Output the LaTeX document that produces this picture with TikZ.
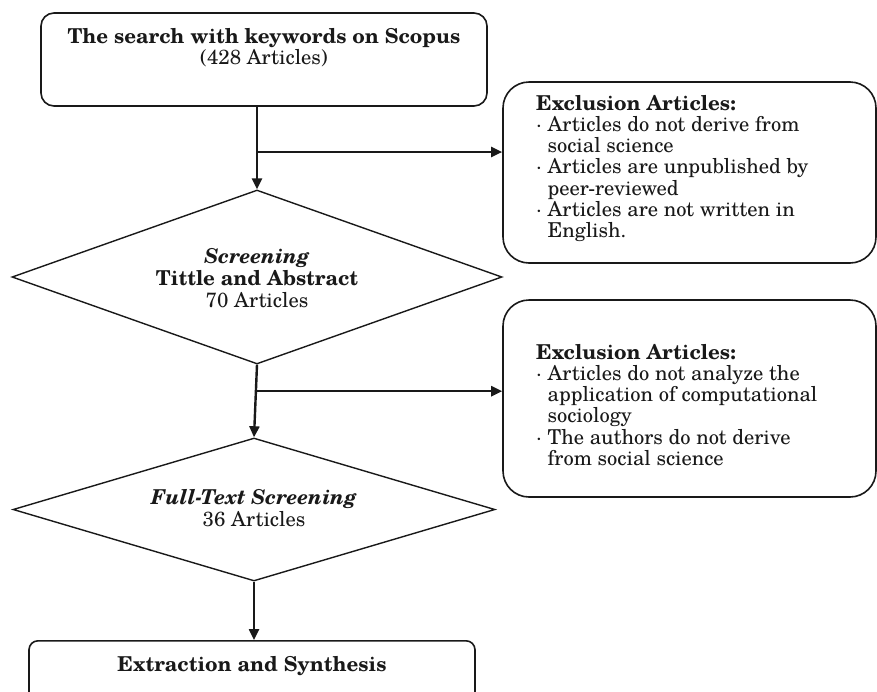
\documentclass[tikz,border=0pt]{standalone}
\usepackage{fontspec}
\setmainfont{TeX Gyre Schola}
\usetikzlibrary{shapes.geometric,arrows.meta,calc}
\begin{document}
\begin{tikzpicture}[x=1pt,y=-1pt,
  box/.style={draw=black!90, line width=1.6pt, rounded corners=13pt, inner sep=0pt},
  exbox/.style={draw=black!90, line width=1.6pt, rounded corners=26pt, inner sep=0pt},
  dia/.style={diamond, draw=black!90, line width=1.4pt, inner sep=0pt},
  arr/.style={draw=black!90, line width=2.4pt, -{Triangle[length=11pt,width=10pt]}},
  txt/.style={inner sep=0pt, text=black!90, align=center, font=\fontsize{20.5}{21}\selectfont},
  dtxt/.style={inner sep=0pt, text=black!90, align=center, font=\fontsize{20.5}{22}\selectfont},
  extxt/.style={inner sep=0pt, text=black!90, align=left, anchor=north west, font=\fontsize{20.5}{21.2}\selectfont}]
\useasboundingbox (0,0) rectangle (877,691);
\clip (0,0) rectangle (877,691);

% boxes
\node[box, minimum width=446pt, minimum height=93pt] (top) at (264,59.5) {};
\node[txt] (toptxt) at (264,48) {\textbf{The search with keywords on Scopus}\\(428 Articles)};

\node[exbox, minimum width=373pt, minimum height=181pt] (ex1) at (689.5,172.5) {};
\node[extxt] (ex1t) at (536,95) {\textbf{Exclusion Articles:}\\
\textperiodcentered\ Articles do not derive from\\
\phantom{\textperiodcentered\ }social science\\
\textperiodcentered\ Articles are unpublished by\\
\phantom{\textperiodcentered\ }peer-reviewed\\
\textperiodcentered\ Articles are not written in\\
\phantom{\textperiodcentered\ }English.};

\node[dia, minimum width=490pt, minimum height=174pt] (d1) at (257,277) {};
\node[dtxt] (d1t) at (257,278) {\textbf{\textit{Screening}}\\\textbf{Tittle and Abstract}\\70 Articles};

\node[exbox, minimum width=373pt, minimum height=197pt] (ex2) at (689.5,398.5) {};
\node[extxt] (ex2t) at (536,344) {\textbf{Exclusion Articles:}\\
\textperiodcentered\ Articles do not analyze the\\
\phantom{\textperiodcentered\ }application of computational\\
\phantom{\textperiodcentered\ }sociology\\
\textperiodcentered\ The authors do not derive\\
\phantom{\textperiodcentered\ }from social science};

\node[dia, minimum width=482pt, minimum height=143pt] (d2) at (254,509.5) {};
\node[dtxt] (d2t) at (254,508) {\textbf{\textit{Full-Text Screening}}\\36 Articles};

\node[box, rounded corners=9pt, minimum width=446pt, minimum height=80pt, anchor=north] (bot) at (252,640) {};
\node[txt] (bott) at (252,666) {\textbf{Extraction and Synthesis}};

% connectors
\draw[arr] (top.south -| d1.north) -- (d1.north);
\coordinate (b1) at (257,152);
\draw[arr] (b1) -- (b1 -| ex1.west);

\draw[arr] (d1.south) -- (d2.north);
\coordinate (b2) at ($(d1.south)!0.365!(d2.north)$);
\draw[arr] (b2) -- (b2 -| ex2.west);

\draw[arr] (d2.south) -- (d2.south |- bot.north);
\end{tikzpicture}
\end{document}
